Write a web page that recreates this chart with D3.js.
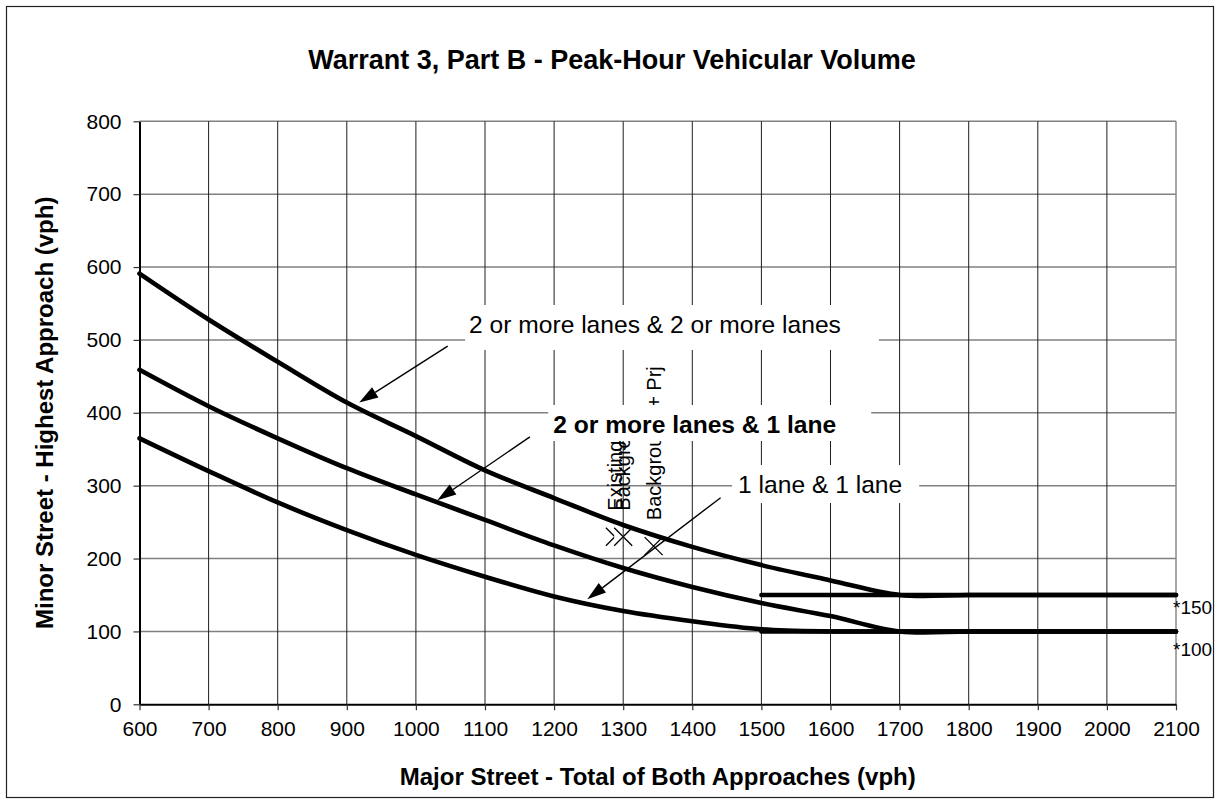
<!DOCTYPE html>
<html><head><meta charset="utf-8">
<script src="https://cdn.jsdelivr.net/npm/d3@7"></script>
<style>
body{margin:0;background:#fff;}
svg{display:block;font-family:Arial,"Liberation Sans",sans-serif;}
</style></head><body>
<svg id="chart" width="1220" height="800"></svg>
<script>
// Major-street volume (vph) at which each threshold curve is tabulated
const majorVolume = [600,700,800,900,1000,1100,1200,1300,1400,1500,1600,1700,1800,1900,2000,2100];
// Minor-street threshold (vph) for each lane configuration
const curveTwoPlusTwoPlus = [591,528,470,414,368,321,283,246,216,191,170,150,150,150,150,150];
const curveTwoPlusOne     = [459,409,365,324,288,253,218,187,161,139,121,100,100,100,100,100];
const curveOneOne         = [365,320,277,239,205,175,148,128,114,103,100,100,100,100,100,100];
// Lower-threshold lines
const floorMajor = [1500,2100];
const floor150 = [150,150];
const floor100 = [100,100];
const floorLabels = ["*150","*100"];
// Study scenarios
const scenarioNames = ["Existing","Background","Background + Prj"];
const scenarioMajor = [1288,1300,1344];
const scenarioMinor = [230,230,217];
// Axis ticks
const xTicks = [600,700,800,900,1000,1100,1200,1300,1400,1500,1600,1700,1800,1900,2000,2100];
const yTicks = [0,100,200,300,400,500,600,700,800];
// Curve callouts
const calloutText = ["2 or more lanes & 2 or more lanes","2 or more lanes & 1 lane","1 lane & 1 lane"];

// Callout layout (data units for anchors, pixels for box padding: top, right, bottom, left)
const calloutLayout = [
  {at:[1346,509.5], bold:false, pad:[6,38,12,4], from:[1046,491.6], to:[918,414]},
  {at:[1403.5,372.3], bold:true, pad:[6,35,3,5], from:[1165,367], to:[1031,280]},
  {at:[1585,289.9], bold:false, pad:[6,17,5,6], from:[1441,283.5], to:[1248,144]}
];

const svg = d3.select("#chart");
const x = d3.scaleLinear().domain([600,2100]).range([139.5,1176]);
const y = d3.scaleLinear().domain([0,800]).range([704.3,121.3]);

// outer frame
svg.append("rect").attr("x",6.5).attr("y",6.5).attr("width",1207).attr("height",791)
  .attr("fill","#fff").attr("stroke","#222").attr("stroke-width",1.2);

// horizontal gridlines
svg.append("g").selectAll("line").data(yTicks.filter(d=>d>0)).join("line")
  .attr("x1",x(600)).attr("x2",x(2100)).attr("y1",d=>y(d)).attr("y2",d=>y(d))
  .attr("stroke","#808080").attr("stroke-width",1.5);

// scenario markers (X with opaque box)
const ms = 9;
const mk = svg.append("g");
scenarioNames.forEach((n,i)=>{
  const cx = x(scenarioMajor[i]), cy = y(scenarioMinor[i]);
  mk.append("rect").attr("x",cx-ms).attr("y",cy-ms).attr("width",2*ms).attr("height",2*ms).attr("fill","#fff");
  mk.append("path").attr("d",`M${cx-ms},${cy-ms}L${cx+ms},${cy+ms}M${cx-ms},${cy+ms}L${cx+ms},${cy-ms}`)
    .attr("stroke","#000").attr("stroke-width",1.3).attr("fill","none");
});

// vertical gridlines
svg.append("g").selectAll("line").data(xTicks.filter(d=>d>600 && d<2100)).join("line")
  .attr("x1",d=>x(d)).attr("x2",d=>x(d)).attr("y1",y(0)).attr("y2",y(800))
  .attr("stroke","#1e1e1e").attr("stroke-width",1);
svg.append("line").attr("x1",x(2100)).attr("x2",x(2100)).attr("y1",y(0)).attr("y2",y(800))
  .attr("stroke","#8a8a8a").attr("stroke-width",1.5);

// axes
const gy = svg.append("g").attr("transform",`translate(${x(600)},0)`)
  .call(d3.axisLeft(y).tickValues(yTicks).tickSize(6).tickSizeOuter(0).tickPadding(12));
const gx = svg.append("g").attr("transform",`translate(0,${y(0)})`)
  .call(d3.axisBottom(x).tickValues(xTicks).tickFormat(d3.format("d")).tickSize(6).tickSizeOuter(0).tickPadding(11));
[gy,gx].forEach(g=>{
  g.select(".domain").attr("stroke","#000").attr("stroke-width",2);
  g.selectAll(".tick line").attr("stroke","#333").attr("stroke-width",1.2);
  g.selectAll(".tick text").attr("font-size",21).attr("fill","#000").attr("font-family","Arial, 'Liberation Sans', sans-serif");
});

// threshold curves
const line = d3.line().x(d=>x(d[0])).y(d=>y(d[1])).curve(d3.curveCardinal);
[curveTwoPlusTwoPlus, curveTwoPlusOne, curveOneOne].forEach(s=>{
  svg.append("path").attr("d",line(majorVolume.map((m,i)=>[m,s[i]])))
    .attr("fill","none").attr("stroke","#000").attr("stroke-width",4.6)
    .attr("stroke-linejoin","round").attr("stroke-linecap","round");
});
const straight = d3.line().x(d=>x(d[0])).y(d=>y(d[1]));
[floor150, floor100].forEach(s=>{
  svg.append("path").attr("d",straight(floorMajor.map((m,i)=>[m,s[i]])))
    .attr("fill","none").attr("stroke","#000").attr("stroke-width",4.6).attr("stroke-linecap","round");
});

// floor labels at the right end
const floorDy = [19,24.5];
[floor150, floor100].forEach((s,i)=>{
  svg.append("text").attr("x",x(floorMajor[1])-3).attr("y",y(s[1])+floorDy[i])
    .attr("font-size",19).text(floorLabels[i]);
});

// scenario labels (rotated)
scenarioNames.forEach((n,i)=>{
  svg.append("text")
    .attr("transform",`translate(${x(scenarioMajor[i])},${y(scenarioMinor[i])-26}) rotate(-90)`)
    .attr("dy","0.35em").attr("font-size",20).attr("fill","#000").text(n);
});

// callout boxes and text
calloutLayout.forEach((c,i)=>{
  const g = svg.append("g");
  const r = g.append("rect").attr("fill","#fff");
  const t = g.append("text").attr("x",x(c.at[0])).attr("y",y(c.at[1]))
    .attr("text-anchor","middle").attr("font-size",24.6)
    .attr("font-weight",c.bold?"bold":"normal").text(calloutText[i]);
  const b = t.node().getBBox();
  r.attr("x",b.x-c.pad[3]).attr("y",b.y-c.pad[0])
   .attr("width",b.width+c.pad[3]+c.pad[1]).attr("height",b.height+c.pad[0]+c.pad[2]);
});

// arrows from callouts to curves
calloutLayout.forEach(c=>{
  const x1=x(c.from[0]), y1=y(c.from[1]), x2=x(c.to[0]), y2=y(c.to[1]);
  const dx=x2-x1, dy=y2-y1, L=Math.hypot(dx,dy), ux=dx/L, uy=dy/L;
  const hl=19, hw=6;
  const bx=x2-ux*hl, by=y2-uy*hl;
  svg.append("line").attr("x1",x1).attr("y1",y1).attr("x2",bx).attr("y2",by)
    .attr("stroke","#000").attr("stroke-width",1.4);
  svg.append("path").attr("d",`M${x2},${y2}L${bx-uy*hw},${by+ux*hw}L${bx+uy*hw},${by-ux*hw}Z`)
    .attr("fill","#000");
});

// titles
svg.append("text").attr("x",612).attr("y",69).attr("text-anchor","middle")
  .attr("font-size",27).attr("font-weight","bold").text("Warrant 3, Part B - Peak-Hour Vehicular Volume");
svg.append("text").attr("x",(x(600)+x(2100))/2).attr("y",785).attr("text-anchor","middle")
  .attr("font-size",24).attr("font-weight","bold").text("Major Street - Total of Both Approaches (vph)");
svg.append("text").attr("transform",`translate(53,${(y(0)+y(800))/2}) rotate(-90)`).attr("text-anchor","middle")
  .attr("font-size",24).attr("font-weight","bold").text("Minor Street - Highest Approach (vph)");
</script>
</body></html>
